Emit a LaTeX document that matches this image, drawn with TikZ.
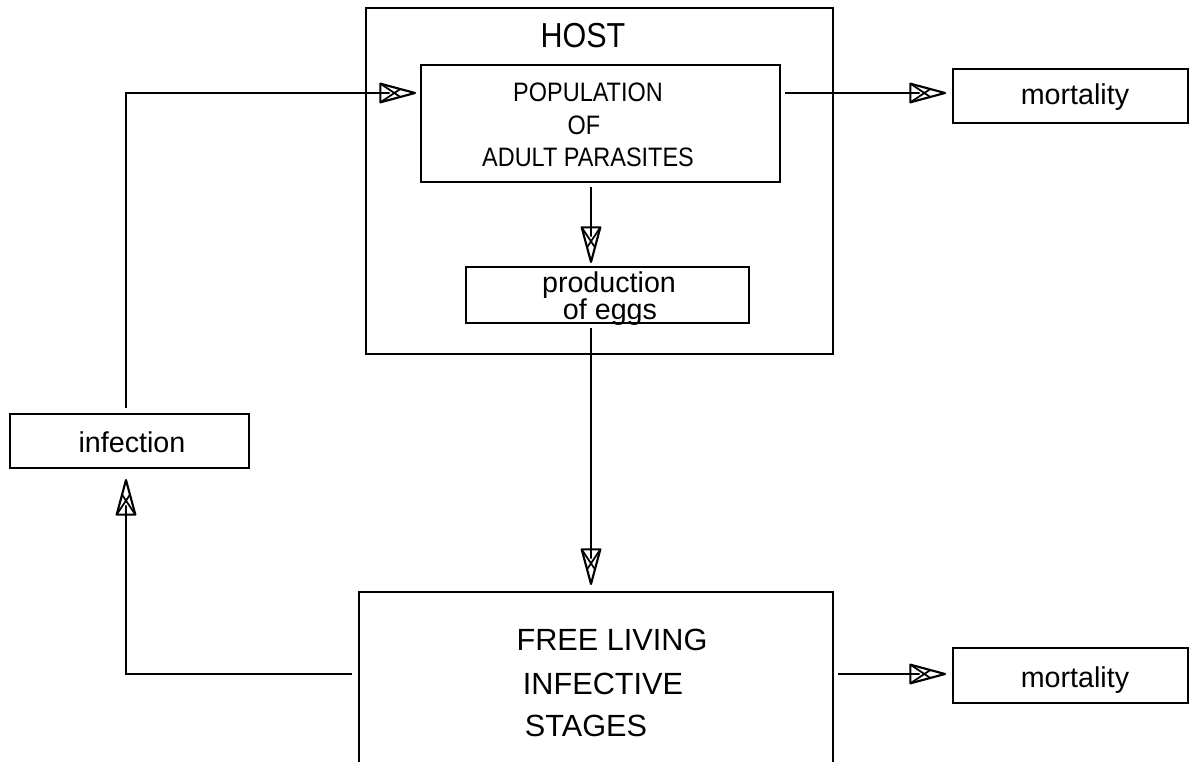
\documentclass[tikz,border=0pt]{standalone}
\usepackage{fontspec}
\setmainfont{Liberation Sans}
\newfontfamily\capsf{Liberation Sans}[FakeStretch=0.88]
\usetikzlibrary{fit,calc,decorations.markings}
\tikzset{
  box/.style={draw, line width=1.8pt, inner sep=0pt, outer sep=0pt},
  lbl/.style={anchor=base, inner sep=0pt},
  hatchtip/.style={postaction={decorate, decoration={markings,
      mark=at position 1 with {
        \draw[line width=1.6pt, fill=white, line join=round]
          (0,0) -- (-26pt,7pt) -- (-26pt,-7pt) -- cycle;
        \draw[line width=1.3pt]
          (-26pt,7pt) -- (-11pt,-3pt)
          (-26pt,-7pt) -- (-11pt,3pt)
          (-26pt,0pt) -- (-19pt,0pt);
      }}}},
  conn/.style={line width=1.8pt, hatchtip}
}
\begin{document}
\begin{tikzpicture}[x=0.75pt,y=-0.75pt]
\useasboundingbox (0,0) rectangle (1195,762);
\clip (0,0) rectangle (1195,762);
% boxes
\node[box, fit={(366,8) (833,354)}] (host) {};
\node[box, fit={(421,65) (780,182)}] (pop) {};
\node[box, fit={(466,267) (749,323)}] (prod) {};
\node[box, fit={(359,592) (833,800)}] (free) {};
\node[box, fit={(10,414) (249,468)}] (inf) {};
\node[box, fit={(953,69) (1188,123)}] (mort1) {};
\node[box, fit={(953,648) (1188,703)}] (mort2) {};
% labels
\node[lbl] (thost) at (583,48) {\capsf\fontsize{26}{30}\selectfont HOST};
\node[lbl] (tpop1) at (588,102) {\capsf\fontsize{20}{24}\selectfont POPULATION};
\node[lbl] (tpop2) at (584,135) {\capsf\fontsize{20}{24}\selectfont OF};
\node[lbl] (tpop3) at (588,167) {\capsf\fontsize{20}{24}\selectfont ADULT PARASITES};
\node[lbl] (tprod1) at (609,293) {\fontsize{21.5}{26}\selectfont production};
\node[lbl] (tprod2) at (610,320) {\fontsize{21.5}{26}\selectfont of eggs};
\node[lbl] (tfree1) at (612,650) {\fontsize{23}{28}\selectfont FREE LIVING};
\node[lbl] (tfree2) at (603,694) {\fontsize{23}{28}\selectfont INFECTIVE};
\node[lbl] (tfree3) at (586,736) {\fontsize{23}{28}\selectfont STAGES};
\node[lbl] (tinf) at (132,452) {\fontsize{21.5}{26}\selectfont infection};
\node[lbl] (tmort1) at (1075,105) {\fontsize{21.5}{26}\selectfont mortality};
\node[lbl] (tmort2) at (1075,687) {\fontsize{21.5}{26}\selectfont mortality};
% helper coordinates
\coordinate (row1) at (0,93);
\coordinate (row2) at (0,674);
\coordinate (colx) at (591,0);
\coordinate (coll) at (126,0);
% connectors
\draw[conn] ($(pop.south -| colx)+(0,5)$) -- ($(prod.north -| colx)+(0,-5)$);
\draw[conn] ($(prod.south -| colx)+(0,5)$) -- ($(free.north -| colx)+(0,-8)$);
\draw[conn] ($(free.west |- row2)+(-7,0)$) -- (coll |- row2) -- ($(inf.south -| coll)+(0,12)$);
\draw[conn] ($(inf.north -| coll)+(0,-6)$) -- (coll |- row1) -- ($(pop.west |- row1)+(-6,0)$);
\draw[conn] ($(pop.east |- row1)+(5,0)$) -- ($(mort1.west |- row1)+(-8,0)$);
\draw[conn] ($(free.east |- row2)+(5,0)$) -- ($(mort2.west |- row2)+(-8,0)$);
\end{tikzpicture}
\end{document}
